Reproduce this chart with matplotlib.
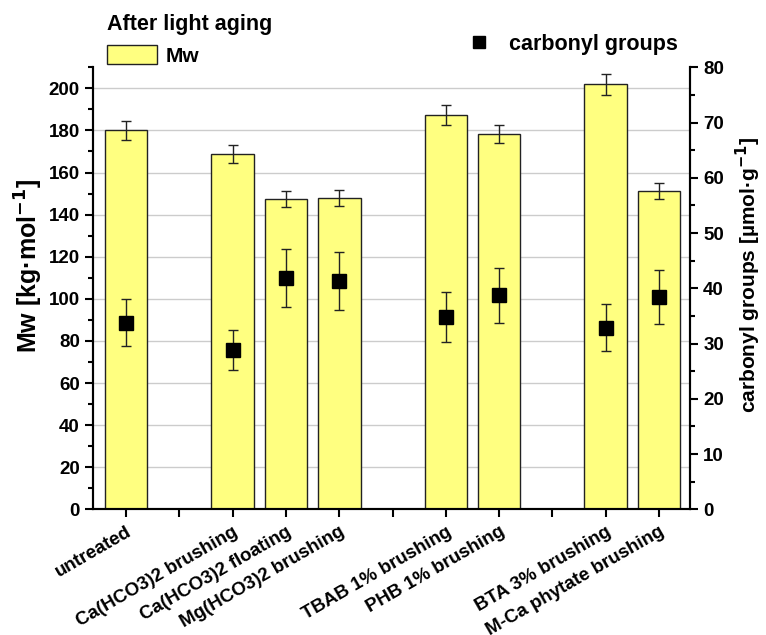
import numpy as np
import matplotlib
matplotlib.use("Agg")
import matplotlib.pyplot as plt
from matplotlib.lines import Line2D
from matplotlib.patches import Patch
from matplotlib.ticker import MultipleLocator, FixedLocator

plt.rcParams['font.family'] = ['Liberation Sans', 'DejaVu Sans']
plt.rcParams['font.weight'] = 'bold'
plt.rcParams['mathtext.default'] = 'bf'

labels = ["untreated", "Ca(HCO3)2 brushing", "Ca(HCO3)2 floating",
          "Mg(HCO3)2 brushing", "TBAB 1% brushing", "PHB 1% brushing",
          "BTA 3% brushing", "M-Ca phytate brushing"]
bar_pos = [0, 2, 3, 4, 6, 7, 9, 10]
gap_pos = [1, 5, 8]
mw = [180.1, 169.0, 147.4, 147.8, 187.4, 178.4, 201.9, 151.2]
mw_err = [4.5, 4.3, 3.7, 3.8, 4.7, 4.4, 4.9, 4.0]
carbonyl = [33.8, 28.8, 41.9, 41.3, 34.8, 38.7, 32.9, 38.4]
carbonyl_err = [4.3, 3.6, 5.3, 5.2, 4.45, 5.0, 4.2, 4.85]

fig = plt.figure(figsize=(7.66, 6.35), dpi=100)
ax = fig.add_axes([93/766, 1-509.3/635, (690-93)/766, (509.3-67.3)/635])
ax2 = ax.twinx()

ax.bar(bar_pos, mw, width=0.8, color="#ffff80", edgecolor="#222222", linewidth=1.0,
       zorder=2)
ax.errorbar(bar_pos, mw, yerr=mw_err, fmt="none", ecolor="#222222", elinewidth=1.0,
            capsize=3.3, capthick=1.0, zorder=3)
ax2.errorbar(bar_pos, carbonyl, yerr=carbonyl_err, fmt="s", color="black",
             markersize=9.5, ecolor="#222222", elinewidth=1.0, capsize=3.3,
             capthick=1.0, zorder=4)

ax.set_xlim(-0.62, 10.58)
ax.set_ylim(0, 210)
ax2.set_ylim(0, 80)
ax.yaxis.set_major_locator(MultipleLocator(20))
ax.yaxis.set_minor_locator(MultipleLocator(10))
ax2.yaxis.set_major_locator(MultipleLocator(10))
ax2.yaxis.set_minor_locator(MultipleLocator(5))
ax.grid(axis="y", color="#cccccc", linewidth=1.0, zorder=0)
ax.set_axisbelow(True)

ax.set_xticks(bar_pos)
ax.set_xticklabels(labels, rotation=30, ha="right", rotation_mode="anchor",
                   fontsize=13.5, fontweight="bold")
ax.xaxis.set_minor_locator(FixedLocator(gap_pos))
for a in (ax, ax2):
    a.spines['top'].set_visible(False)
    for s in a.spines.values():
        s.set_linewidth(1.5)
    a.tick_params(which="major", direction="out", length=6, width=1.5, labelsize=13.5)
    a.tick_params(which="minor", direction="out", length=3.5, width=1.5)
ax.tick_params(axis="x", which="both", length=6, pad=4)

ax.set_ylabel("Mw [kg·mol$^{-1}$]", fontsize=18, fontweight="bold")
ax.yaxis.set_label_coords(-0.08, 0.55)
ax2.set_ylabel("carbonyl groups [µmol·g$^{-1}$]", fontsize=15, fontweight="bold")
ax2.yaxis.set_label_coords(1.074, 0.53)

leg1 = fig.legend(handles=[Patch(facecolor="#ffff80", edgecolor="#222222", label="Mw")],
                  title="After light aging", loc="upper left",
                  bbox_to_anchor=(107/766, 1-14/635), frameon=False,
                  prop={"size": 15, "weight": "bold"},
                  title_fontproperties={"size": 15.5, "weight": "bold"},
                  handlelength=2.4, handleheight=1.0, handletextpad=0.4,
                  borderpad=0, borderaxespad=0)
leg1._legend_box.align = "left"
fig.legend(handles=[Line2D([], [], marker="s", color="black", linestyle="none",
                           markersize=9, label="carbonyl groups")],
           loc="upper left", bbox_to_anchor=(468/766, 1-34/635), frameon=False,
           prop={"size": 15.5, "weight": "bold"},
           handlelength=1.0, handletextpad=0.9, borderpad=0, borderaxespad=0)

fig.savefig("out.png", dpi=100)
